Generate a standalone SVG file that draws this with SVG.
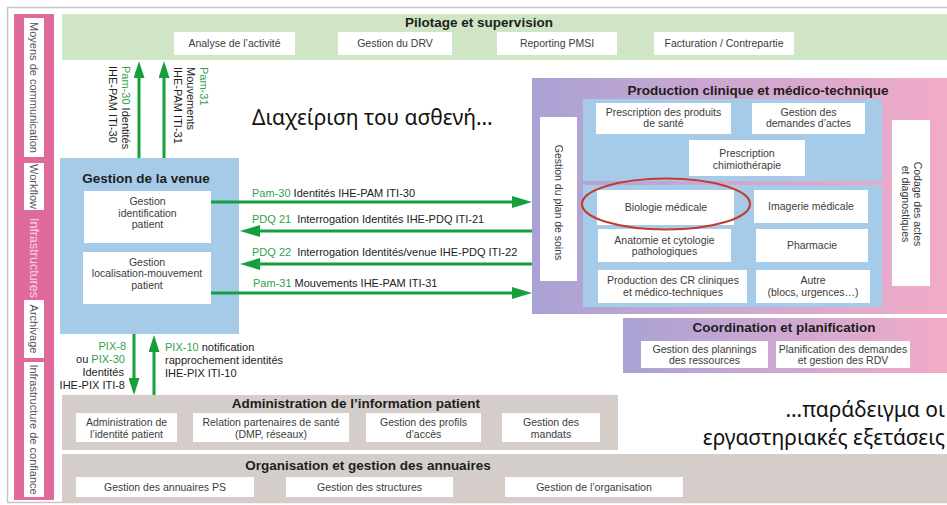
<svg xmlns="http://www.w3.org/2000/svg" width="947" height="505" viewBox="0 0 947 505">
<defs>
<linearGradient id="gPC" x1="0" y1="0" x2="1" y2="0">
<stop offset="0" stop-color="#a9a2d4"/>
<stop offset="0.5" stop-color="#cfa8d0"/>
<stop offset="1" stop-color="#f2abc7"/>
</linearGradient>
<marker id="ah" markerUnits="userSpaceOnUse" markerWidth="20" markerHeight="12" refX="8" refY="6" orient="auto" viewBox="0 0 20 12">
<path d="M0,0 L20,6 L0,12 z" fill="#15a03d"/>
</marker>
<marker id="av" markerUnits="userSpaceOnUse" markerWidth="17" markerHeight="11" refX="6" refY="5.5" orient="auto" viewBox="0 0 17 11">
<path d="M0,0 L17,5.5 L0,11 z" fill="#15a03d"/>
</marker>
</defs>
<style>
.t{font-family:"Liberation Sans",Arial,sans-serif;font-size:10.5px;fill:#3c3c3c;text-anchor:middle}
.h{font-family:"Liberation Sans",Arial,sans-serif;font-size:13.5px;font-weight:bold;fill:#1e1e1e;text-anchor:middle}
.l{font-family:"Liberation Sans",Arial,sans-serif;font-size:11px;fill:#222}
.g{fill:#2fa34a}
.box{fill:#fff}
.arr{stroke:#15a03d;stroke-width:3;fill:none}
.gr{font-family:"Noto Sans","Liberation Sans",sans-serif;font-size:21px;fill:#111}
.sb{font-family:"Liberation Sans",Arial,sans-serif;font-size:11px;fill:#555;text-anchor:middle}
.blue{fill:#a6cbe9}
.grey{fill:#d4cdc9}
</style>

<rect x="7.5" y="7.5" width="945" height="495" fill="none" stroke="#c6c6c6" stroke-width="1.5"/>

<g id="sidebar">
<rect x="14" y="14" width="40" height="486" fill="#e06a9c"/>
<rect class="box" x="24" y="18" width="20" height="139"/>
<rect class="box" x="24" y="163" width="20" height="47"/>
<rect class="box" x="24" y="300" width="20" height="58"/>
<rect class="box" x="24" y="362" width="20" height="135"/>
<text class="sb" transform="translate(30,87.5) rotate(90)">Moyens de communication</text>
<text class="sb" transform="translate(30,186.5) rotate(90)">Workflow</text>
<text class="sb" style="fill:#f8d2e2;font-size:12.5px" transform="translate(30,258) rotate(90)">Infrastructures</text>
<text class="sb" transform="translate(30,329) rotate(90)">Archivage</text>
<text class="sb" transform="translate(30,429.5) rotate(90)">Infrastructure de confiance</text>
</g>

<g id="pilotage">
<rect x="62" y="14" width="885" height="46" fill="#d0e5c5"/>
<text class="h" x="479" y="27">Pilotage et supervision</text>
<rect class="box" x="174" y="32" width="121" height="23"/>
<text class="t" x="234.5" y="47">Analyse de l’activité</text>
<rect class="box" x="338" y="32" width="114" height="23"/>
<text class="t" x="395" y="47">Gestion du DRV</text>
<rect class="box" x="497" y="32" width="120" height="23"/>
<text class="t" x="557" y="47">Reporting PMSI</text>
<rect class="box" x="654" y="32" width="140" height="23"/>
<text class="t" x="724" y="47">Facturation / Contrepartie</text>
</g>

<g id="venue">
<rect class="blue" x="60" y="158" width="179" height="176"/>
<text class="h" x="146" y="183">Gestion de la venue</text>
<rect class="box" x="84" y="191" width="127" height="52"/>
<text class="t" x="147.5" y="205">Gestion</text>
<text class="t" x="147.5" y="216.5">identification</text>
<text class="t" x="147.5" y="228">patient</text>
<rect class="box" x="83" y="252" width="128" height="52"/>
<text class="t" x="147" y="265.5">Gestion</text>
<text class="t" x="147" y="277">localisation-mouvement</text>
<text class="t" x="147" y="288.5">patient</text>
</g>

<g id="production">
<rect x="532" y="78" width="415" height="236" fill="url(#gPC)"/>
<text class="h" x="758" y="95">Production clinique et médico-technique</text>
<rect class="box" x="540" y="117" width="37" height="164"/>
<text class="t" transform="translate(555,202.5) rotate(90)">Gestion du plan de soins</text>
<rect class="blue" x="583" y="99" width="299" height="82"/>
<rect class="blue" x="583" y="185" width="299" height="122"/>
<rect class="box" x="596" y="103" width="135" height="31"/>
<text class="t" x="663.5" y="116">Prescription des produits</text>
<text class="t" x="663.5" y="127">de santé</text>
<rect class="box" x="752" y="103" width="113" height="31"/>
<text class="t" x="808.5" y="116">Gestion des</text>
<text class="t" x="808.5" y="127">demandes d’actes</text>
<rect class="box" x="689" y="140" width="116" height="36"/>
<text class="t" x="747" y="157">Prescription</text>
<text class="t" x="747" y="168.5">chimiothérapie</text>
<rect class="box" x="597" y="190" width="137" height="35"/>
<text class="t" x="666" y="211">Biologie médicale</text>
<rect class="box" x="754" y="190" width="114" height="33"/>
<text class="t" x="811" y="210">Imagerie médicale</text>
<rect class="box" x="598" y="229" width="133" height="33"/>
<text class="t" x="664.5" y="244">Anatomie et cytologie</text>
<text class="t" x="664.5" y="255">pathologiques</text>
<rect class="box" x="756" y="229" width="112" height="33"/>
<text class="t" x="812" y="249">Pharmacie</text>
<rect class="box" x="598" y="270" width="149" height="33"/>
<text class="t" x="673" y="284">Production des CR cliniques</text>
<text class="t" x="673" y="295.5">et médico-techniques</text>
<rect class="box" x="756" y="270" width="114" height="33"/>
<text class="t" x="813" y="284">Autre</text>
<text class="t" x="813" y="295.5">(blocs, urgences…)</text>
<rect class="box" x="892" y="120" width="38" height="166"/>
<text class="t" transform="translate(914,204) rotate(90)">Codage des actes</text>
<text class="t" transform="translate(902,204) rotate(90)">et diagnostiques</text>
<ellipse cx="666" cy="204" rx="84" ry="25.5" fill="none" stroke="#c43c30" stroke-width="2.2"/>
</g>

<g id="coordination">
<rect x="623" y="318" width="324" height="55" fill="url(#gPC)"/>
<text class="h" x="784" y="332">Coordination et planification</text>
<rect class="box" x="641" y="341" width="127" height="27"/>
<text class="t" x="704.5" y="353">Gestion des plannings</text>
<text class="t" x="704.5" y="364">des ressources</text>
<rect class="box" x="776" y="341" width="134" height="27"/>
<text class="t" x="843" y="353">Planification des demandes</text>
<text class="t" x="843" y="364">et gestion des RDV</text>
</g>

<g id="administration">
<rect class="grey" x="62" y="395" width="556" height="55"/>
<text class="h" x="356" y="408">Administration de l’information patient</text>
<rect class="box" x="76" y="413" width="101" height="29"/>
<text class="t" x="126.5" y="426">Administration de</text>
<text class="t" x="126.5" y="437.5">l’identité patient</text>
<rect class="box" x="193" y="413" width="156" height="29"/>
<text class="t" x="271" y="426">Relation partenaires de santé</text>
<text class="t" x="271" y="437.5">(DMP, réseaux)</text>
<rect class="box" x="366" y="413" width="115" height="29"/>
<text class="t" x="423.5" y="426">Gestion des profils</text>
<text class="t" x="423.5" y="437.5">d’accès</text>
<rect class="box" x="502" y="413" width="98" height="29"/>
<text class="t" x="551" y="426">Gestion des</text>
<text class="t" x="551" y="437.5">mandats</text>
</g>

<g id="organisation">
<rect class="grey" x="62" y="454" width="885" height="49"/>
<text class="h" x="368" y="470">Organisation et gestion des annuaires</text>
<rect class="box" x="76" y="477" width="178" height="20"/>
<text class="t" x="165" y="491">Gestion des annuaires PS</text>
<rect class="box" x="286" y="477" width="167" height="20"/>
<text class="t" x="369.5" y="491">Gestion des structures</text>
<rect class="box" x="505" y="477" width="178" height="20"/>
<text class="t" x="594" y="491">Gestion de l’organisation</text>
</g>

<g id="connectors">
<line class="arr" x1="139" y1="158" x2="139" y2="72" marker-end="url(#av)"/>
<line class="arr" x1="164" y1="158" x2="164" y2="72" marker-end="url(#av)"/>
<line class="arr" x1="211" y1="202" x2="520" y2="202" marker-end="url(#ah)"/>
<line class="arr" x1="532" y1="231" x2="252" y2="231" marker-end="url(#ah)"/>
<line class="arr" x1="532" y1="264" x2="252" y2="264" marker-end="url(#ah)"/>
<line class="arr" x1="211" y1="293" x2="520" y2="293" marker-end="url(#ah)"/>
<line class="arr" x1="134" y1="334" x2="134" y2="384" marker-end="url(#av)"/>
<line class="arr" x1="154" y1="395" x2="154" y2="346" marker-end="url(#av)"/>

<text class="l" transform="translate(122,66) rotate(90)"><tspan class="g">Pam-30</tspan> Identités</text>
<text class="l" transform="translate(109,66) rotate(90)">IHE-PAM ITI-30</text>
<text class="l" transform="translate(200,67) rotate(90)"><tspan class="g">Pam-31</tspan></text>
<text class="l" transform="translate(187,67) rotate(90)">Mouvements</text>
<text class="l" transform="translate(174,67) rotate(90)">IHE-PAM ITI-31</text>

<text class="l" x="252" y="197"><tspan class="g">Pam-30</tspan> Identités IHE-PAM ITI-30</text>
<text class="l" x="252" y="223"><tspan class="g">PDQ 21</tspan><tspan dx="6">Interrogation Identités IHE-PDQ ITI-21</tspan></text>
<text class="l" x="252" y="256"><tspan class="g">PDQ 22</tspan><tspan dx="6">Interrogation Identités/venue IHE-PDQ ITI-22</tspan></text>
<text class="l" x="253" y="287"><tspan class="g">Pam-31</tspan> Mouvements IHE-PAM ITI-31</text>

<text class="l" x="126" y="350" text-anchor="end"><tspan class="g">PIX-8</tspan></text>
<text class="l" x="125" y="363" text-anchor="end">ou <tspan class="g">PIX-30</tspan></text>
<text class="l" x="124" y="376" text-anchor="end">Identités</text>
<text class="l" x="125" y="389" text-anchor="end">IHE-PIX ITI-8</text>
<text class="l" x="165" y="351"><tspan class="g">PIX-10</tspan> notification</text>
<text class="l" x="165" y="364">rapprochement identités</text>
<text class="l" x="165" y="377">IHE-PIX ITI-10</text>
</g>

<g id="annotations">
<text class="gr" x="252" y="125">Διαχείριση του ασθενή…</text>
<text class="gr" x="945" y="417" text-anchor="end">…παράδειγμα οι</text>
<text class="gr" x="945" y="445" text-anchor="end">εργαστηριακές εξετάσεις</text>
</g>
</svg>
